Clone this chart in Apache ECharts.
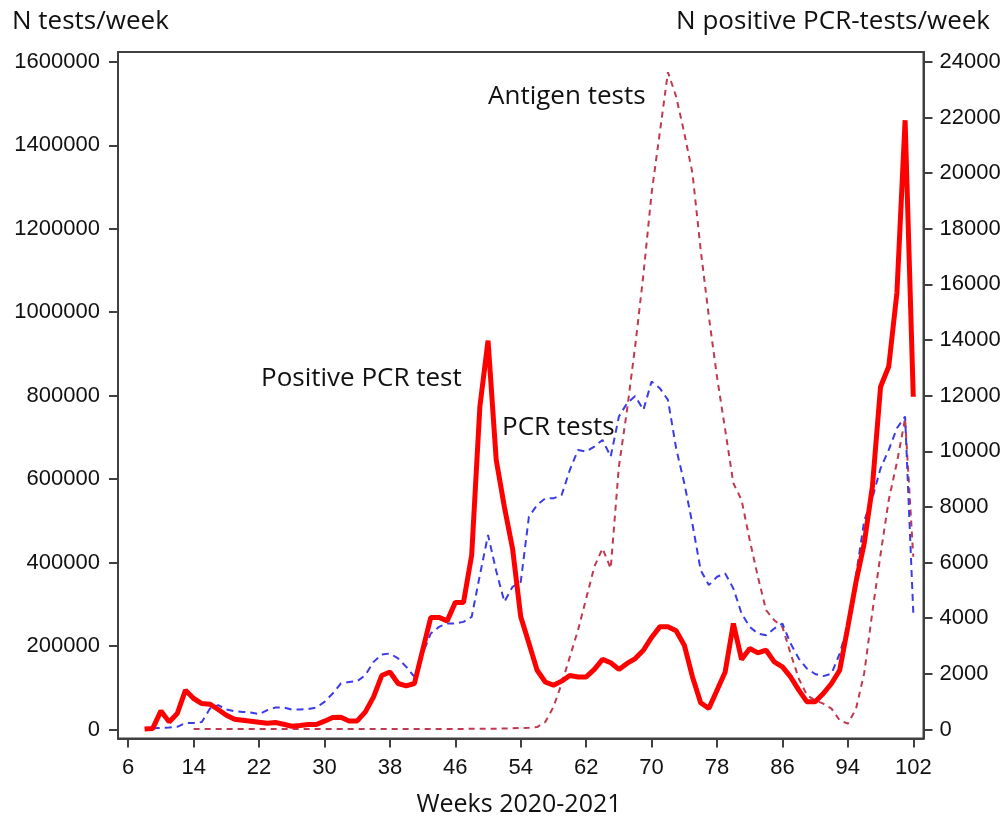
<!DOCTYPE html>
<html>
<head>
<meta charset="utf-8">
<script src="https://cdn.jsdelivr.net/npm/echarts@6/dist/echarts.min.js"></script>
<style>
html,body{margin:0;padding:0;background:#fff;}
#chart{width:1006px;height:821px;}
</style>
</head>
<body>
<div id="chart"></div>
<script>
// ---- data ----
const weekTicks = [6,14,22,30,38,46,54,62,70,78,86,94,102];
const leftTicks = [0,200000,400000,600000,800000,1000000,1200000,1400000,1600000];
const rightTicks = [0,2000,4000,6000,8000,10000,12000,14000,16000,18000,20000,22000,24000];

const positiveStart = 8; // weeks 8..102
const positivePCR = [
  20,40,670,275,575,1415,1115,935,910,720,
  515,370,335,300,263,227,250,190,119,144,
  180,180,300,430,445,310,310,635,1175,1940,
  2070,1655,1570,1655,2850,4030,4030,3905,4570,4570,
  6270,11600,13980,9690,8000,6500,4050,3100,2130,1710,
  1590,1740,1940,1890,1890,2160,2520,2400,2160,2375,
  2550,2850,3310,3690,3690,3550,3030,1890,960,755,
  1415,2070,3810,2520,2910,2755,2850,2430,2250,1890,
  1415,995,995,1295,1655,2130,3690,5310,6690,8730,
  12320,13050,15700,21900,11960
];

const pcrStart = 9; // weeks 9..102
const pcrTests = [
  3000,4000,5000,6500,15800,15800,18200,50400,58300,48000,
  43900,42200,40800,36700,46300,52700,52700,48000,48000,48800,
  52700,66200,86300,110300,114100,115800,130200,162100,179800,182200,
  170300,150100,126100,182000,230200,246000,254200,254200,258000,270000,
  370000,466000,380000,306000,342000,354000,510000,538000,554000,554000,
  562000,622000,670000,666000,678000,694000,654000,750000,782000,799000,
  766000,834000,818000,790000,674000,590000,492000,382000,346000,366000,
  374000,338000,278000,246000,230000,226000,242000,254000,206000,170000,
  146000,133000,128000,134000,182000,250000,370000,500000,555000,626000,
  670000,722000,750000,280000
];

const antigenStart = 14; // weeks 14..102
const antigenTests = [
  1000,1000,1000,1000,1000,1000,1000,1000,1000,1000,
  1000,1000,1000,1000,1000,1000,1000,1000,1000,1000,
  1000,1000,1000,1000,1000,1000,1000,1000,1000,1000,
  1500,1500,1500,1500,2000,2000,2000,2000,2500,3000,
  3500,4000,
  6000,18000,54000,110000,174000,238000,314000,390000,434000,386000,
  630000,766000,920000,1090000,1285000,1430000,1575000,1517000,1429000,1333000,
  1150000,990000,845000,718000,590000,550000,454000,366000,286000,262000,
  246000,182000,122000,82000,70000,62000,50000,22000,14000,50000,
  135000,282000,420000,550000,640000,745000,414000
];

const toPairs = (start, arr) => arr.map((v, i) => [start + i, v]);

// ---- chart ----
const chart = echarts.init(document.getElementById('chart'), null, {renderer: 'canvas'});
const axisColor = '#404040';
const labelFont = {color: '#111', fontSize: 22, fontFamily: '"Liberation Sans", Arial, sans-serif'};
const textFont = '26px "Open Sans", "Noto Sans", sans-serif';
const axisTitleFont = '25px "Open Sans", "Noto Sans", sans-serif';

chart.setOption({
  animation: false,
  backgroundColor: '#ffffff',
  grid: {left: 118, right: 82.5, top: 52, bottom: 82.5, show: true, borderColor: axisColor, borderWidth: 2, backgroundColor: 'transparent'},
  xAxis: {
    type: 'value', min: 4.75, max: 103.25,
    axisLine: {show: true, onZero: false, lineStyle: {color: axisColor, width: 2}},
    axisTick: {show: true, length: 9, lineStyle: {color: axisColor, width: 2}, customValues: weekTicks},
    axisLabel: Object.assign({margin: 18, customValues: weekTicks, formatter: v => String(v)}, labelFont),
    splitLine: {show: false}
  },
  yAxis: [
    {
      type: 'value', min: -21500, max: 1623500, position: 'left',
      axisLine: {show: true, onZero: false, lineStyle: {color: axisColor, width: 2}},
      axisTick: {show: true, length: 9, lineStyle: {color: axisColor, width: 2}, customValues: leftTicks},
      axisLabel: Object.assign({margin: 18, customValues: leftTicks, formatter: v => String(v)}, labelFont),
      splitLine: {show: false}
    },
    {
      type: 'value', min: -322.5, max: 24352.5, position: 'right',
      axisLine: {show: true, onZero: false, lineStyle: {color: axisColor, width: 2}},
      axisTick: {show: true, length: 9, lineStyle: {color: axisColor, width: 2}, customValues: rightTicks},
      axisLabel: Object.assign({margin: 16, customValues: rightTicks, formatter: v => String(v)}, labelFont),
      splitLine: {show: false}
    }
  ],
  series: [
    {
      name: 'Antigen tests', type: 'line', yAxisIndex: 0, symbol: 'none',
      data: toPairs(antigenStart, antigenTests),
      lineStyle: {color: '#c0394f', width: 2, type: [6, 5]}
    },
    {
      name: 'PCR tests', type: 'line', yAxisIndex: 0, symbol: 'none',
      data: toPairs(pcrStart, pcrTests),
      lineStyle: {color: '#3b3bea', width: 2, type: [7, 5]}
    },
    {
      name: 'Positive PCR test', type: 'line', yAxisIndex: 1, symbol: 'none',
      data: toPairs(positiveStart, positivePCR),
      lineStyle: {color: '#ff0000', width: 5}
    }
  ],
  graphic: [
    {type: 'text', style: {x: 12, y: 22, text: 'N tests/week', font: textFont, fill: '#111', textAlign: 'left', textVerticalAlign: 'middle'}},
    {type: 'text', style: {x: 990, y: 22, text: 'N positive PCR-tests/week', font: textFont, fill: '#111', textAlign: 'right', textVerticalAlign: 'middle'}},
    {type: 'text', style: {x: 519, y: 805, text: 'Weeks 2020-2021', font: axisTitleFont, fill: '#111', textAlign: 'center', textVerticalAlign: 'middle'}},
    {type: 'text', style: {x: 488, y: 97, text: 'Antigen tests', font: textFont, fill: '#111', textAlign: 'left', textVerticalAlign: 'middle'}},
    {type: 'text', style: {x: 261, y: 379, text: 'Positive PCR test', font: textFont, fill: '#111', textAlign: 'left', textVerticalAlign: 'middle'}},
    {type: 'text', style: {x: 502, y: 428, text: 'PCR tests', font: textFont, fill: '#111', textAlign: 'left', textVerticalAlign: 'middle'}}
  ]
});
</script>
</body>
</html>
